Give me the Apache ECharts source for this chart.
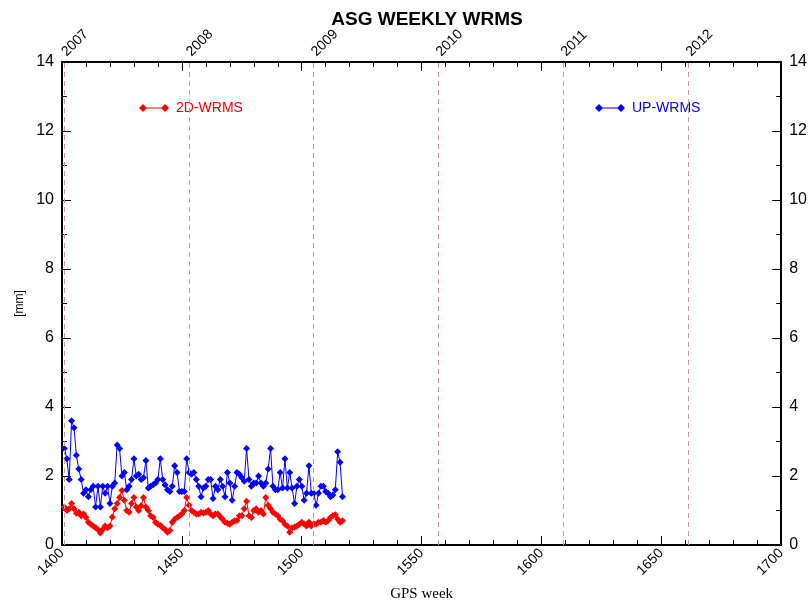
<!DOCTYPE html>
<html>
<head>
<meta charset="utf-8">
<script src="https://cdn.jsdelivr.net/npm/echarts@6/dist/echarts.min.js"></script>
<style>
  html, body { margin: 0; padding: 0; background: #fff; }
  #chart { width: 810px; height: 607px; }
</style>
</head>
<body>
<div id="chart"></div>
<script>
// GPS weeks of the weekly solutions
const firstWeek = 1401;
// Horizontal WRMS per week [mm]
const wrms2D = [
  1.1, 1.0, 1.05, 1.2, 1.05, 0.92, 0.95, 0.85, 0.9, 0.8,
  0.66, 0.6, 0.55, 0.5, 0.45, 0.35, 0.45, 0.55, 0.5, 0.55,
  0.81, 1.05, 1.2, 1.38, 1.58, 1.3, 1.0, 0.95, 1.2, 1.38,
  1.1, 1.0, 1.14, 1.38, 1.1, 1.0, 0.85, 0.8, 0.66, 0.6,
  0.57, 0.5, 0.45, 0.37, 0.42, 0.66, 0.75, 0.8, 0.85, 0.9,
  1.0, 1.38, 1.15, 1.0, 0.95, 0.9, 0.9, 0.95, 0.93, 0.95,
  1.0, 0.9, 0.85, 0.9, 0.9, 0.82, 0.75, 0.66, 0.63, 0.6,
  0.66, 0.7, 0.71, 0.85, 0.85, 1.05, 1.27, 0.85, 0.8, 1.0,
  1.05, 0.95, 1.0, 0.9, 1.38, 1.15, 1.05, 0.95, 0.9, 0.85,
  0.75, 0.7, 0.6, 0.55, 0.37, 0.5, 0.52, 0.55, 0.6, 0.66,
  0.61, 0.55, 0.66, 0.55, 0.61, 0.61, 0.66, 0.66, 0.71, 0.66,
  0.71, 0.8, 0.85, 0.88, 0.75, 0.66, 0.7
];
// Vertical WRMS per week [mm]
const wrmsUp = [
  2.8, 2.5, 1.9, 3.6, 3.4, 2.6, 2.2, 1.9, 1.5, 1.6,
  1.4, 1.6, 1.7, 1.1, 1.7, 1.1, 1.7, 1.5, 1.7, 1.2,
  1.7, 1.8, 2.9, 2.8, 2.0, 2.1, 1.6, 1.7, 1.9, 2.5,
  2.0, 2.05, 1.9, 1.95, 2.45, 1.65, 1.7, 1.75, 1.8, 1.9,
  2.5, 1.9, 1.75, 1.6, 1.55, 1.7, 2.3, 2.1, 1.55, 1.55,
  1.55, 2.5, 2.1, 2.05, 2.1, 1.9, 1.7, 1.4, 1.65, 1.7,
  1.9, 1.9, 1.35, 1.7, 1.6, 1.9, 1.7, 1.4, 2.1, 1.8,
  1.3, 1.7, 2.1, 2.05, 1.95, 1.85, 2.8, 1.9, 1.7, 1.8,
  1.8, 2.0, 1.8, 1.7, 1.8, 2.2, 2.8, 1.7, 1.6, 1.6,
  2.1, 1.65, 2.5, 1.65, 2.1, 1.65, 1.2, 1.7, 1.9, 1.7,
  1.3, 1.5, 2.3, 1.5, 1.5, 1.15, 1.5, 1.7, 1.7, 1.55,
  1.5, 1.4, 1.45, 1.6, 2.7, 2.4, 1.4
];
// Year boundaries expressed in GPS weeks
const yearLabels = ['2007', '2008', '2009', '2010', '2011', '2012'];
const yearWeeks = [1400.8, 1452.9, 1505.0, 1557.1, 1609.2, 1661.3];

const toPairs = arr => arr.map((v, i) => [firstWeek + i, v]);

const SANS = '"Liberation Sans", Arial, Helvetica, sans-serif';
const legendIcon = 'path://M0,4L4,0L8,4L4,8Z M22,4L26,0L30,4L26,8Z M4,3.5H26V4.5H4Z';

const commonX = {
  type: 'value', min: 1400, max: 1700, interval: 50,
  axisLine: { show: true, onZero: false, lineStyle: { color: '#000', width: 2 } },
  axisTick: { show: true, inside: true, length: 9, lineStyle: { color: '#000', width: 1 } },
  minorTick: { show: true, splitNumber: 5, length: 5, lineStyle: { color: '#000', width: 1 } },
  splitLine: { show: false }
};
const commonY = {
  type: 'value', min: 0, max: 14, interval: 2,
  axisLine: { show: true, onZero: false, lineStyle: { color: '#000', width: 2 } },
  axisTick: { show: true, inside: true, length: 9, lineStyle: { color: '#000', width: 1 } },
  minorTick: { show: true, splitNumber: 2, length: 5, lineStyle: { color: '#000', width: 1 } },
  splitLine: { show: false },
  axisLabel: { color: '#000', fontSize: 16, fontFamily: SANS, margin: 8 }
};

const chart = echarts.init(document.getElementById('chart'), null, { renderer: 'canvas' });
chart.setOption({
  animation: false,
  backgroundColor: '#fff',
  title: {
    text: 'ASG WEEKLY WRMS',
    left: 422, top: 5, textAlign: 'center',
    textStyle: { fontFamily: SANS, fontWeight: 'bold', fontSize: 19, color: '#000' }
  },
  grid: { left: 62, right: 27, top: 62, bottom: 59, containLabel: false },
  legend: [
    {
      data: ['2D-WRMS'], left: 134, top: 96, icon: legendIcon,
      itemWidth: 30, itemHeight: 8, itemGap: 6,
      textStyle: { color: '#ff0000', fontSize: 14, fontFamily: SANS, padding: [0, 0, 0, 2] }
    },
    {
      data: ['UP-WRMS'], left: 590, top: 96, icon: legendIcon,
      itemWidth: 30, itemHeight: 8, itemGap: 6,
      textStyle: { color: '#0000ff', fontSize: 14, fontFamily: SANS, padding: [0, 0, 0, 2] }
    }
  ],
  xAxis: [
    Object.assign({}, commonX, {
      position: 'bottom',
      name: 'GPS week', nameLocation: 'middle', nameGap: 42,
      nameTextStyle: { fontFamily: '"Liberation Serif", "Times New Roman", serif', fontSize: 15, color: '#000' },
      axisLabel: {
        color: '#000', fontSize: 14, fontFamily: SANS, rotate: 45, margin: 6,
        formatter: v => String(v)
      }
    }),
    Object.assign({}, commonX, {
      position: 'top',
      axisLabel: { show: false }
    }),
    {
      type: 'value', min: 1400, max: 1700, position: 'top',
      axisLine: { show: false }, axisTick: { show: false }, splitLine: { show: false },
      axisLabel: {
        show: true, customValues: yearWeeks, rotate: 45, margin: 8,
        color: '#000', fontSize: 14, fontFamily: SANS,
        formatter: v => {
          const i = yearWeeks.findIndex(w => Math.abs(w - v) < 0.01);
          return i >= 0 ? yearLabels[i] : '';
        }
      }
    }
  ],
  yAxis: [
    Object.assign({}, commonY, {
      position: 'left',
      name: '[mm]', nameLocation: 'middle', nameGap: 36, nameRotate: 90,
      nameMoveOverlap: false,
      nameTextStyle: { fontFamily: SANS, fontSize: 12, color: '#000' }
    }),
    Object.assign({}, commonY, { position: 'right' })
  ],
  series: [
    {
      name: '2D-WRMS', type: 'line', xAxisIndex: 0, yAxisIndex: 0,
      data: toPairs(wrms2D),
      symbol: 'diamond', symbolSize: 7, showSymbol: true,
      itemStyle: { color: '#ff0000' },
      lineStyle: { color: '#ff0000', width: 1 },
      z: 3,
      markLine: {
        silent: true, symbol: 'none',
        label: { show: false },
        lineStyle: { color: '#c99a9a', type: [5, 4], width: 1 },
        data: yearWeeks.map(w => ({ xAxis: w }))
      }
    },
    {
      name: 'UP-WRMS', type: 'line', xAxisIndex: 0, yAxisIndex: 0,
      data: toPairs(wrmsUp),
      symbol: 'diamond', symbolSize: 7, showSymbol: true,
      itemStyle: { color: '#0000ff' },
      lineStyle: { color: '#0000ff', width: 1 },
      z: 3
    }
  ]
});
</script>
</body>
</html>
